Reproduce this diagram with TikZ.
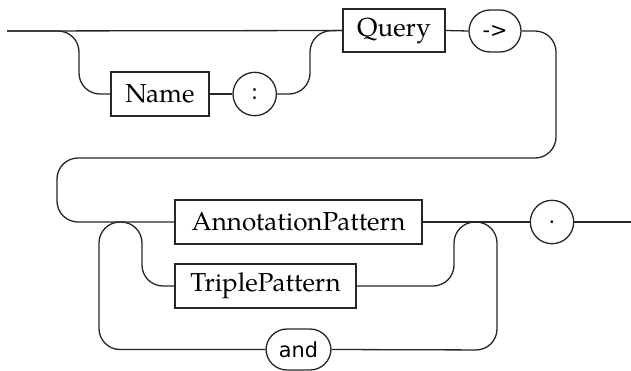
\documentclass[tikz,border=0pt]{standalone}
\usepackage{fontspec}
\newfontfamily\termfont{DejaVu Sans}
% Palatino-style serif for the nonterminal names
\newfontfamily\ntfont{TeX Gyre Pagella}
\tikzset{
  rail/.style={line width=0.65pt, draw=black!85},
  rc/.style={rail, rounded corners=10.5pt},
  nonterm/.style={draw=black!85, line width=0.65pt, rectangle, inner sep=0pt,
    font=\ntfont\fontsize{13}{15}\selectfont},
  term/.style={draw=black!85, line width=0.65pt, rectangle, rounded corners=10.5pt,
    inner sep=0pt, font=\termfont\fontsize{10.4}{12}\selectfont},
  termcirc/.style={draw=black!85, line width=0.65pt, circle, inner sep=0pt,
    minimum size=21.7pt, font=\termfont\fontsize{10.4}{12}\selectfont},
}
\begin{document}
\begin{tikzpicture}[x=0.5pt, y=-0.5pt]
\useasboundingbox (0,0) rectangle (631,370);

% first row: optional "Name :" prefix, then Query ->
\coordinate (in) at (7,31);
\node[nonterm, minimum width=49pt, minimum height=22pt] (name) at (160,94) {Name};
\node[termcirc] (colon) at (254.7,94) {:};
\node[nonterm, minimum width=51pt, minimum height=21.5pt] (query) at (394,30.5) {Query};
\node[term, minimum width=26pt, minimum height=21pt] (arrow) at (495,31) {->};

% second row: a list of patterns separated by "and", closed by "."
\node[nonterm, minimum width=123.5pt, minimum height=22pt] (ap) at (298.5,222) {AnnotationPattern};
\node[nonterm, minimum width=90.5pt, minimum height=22pt] (tp) at (265.5,286) {TriplePattern};
\node[term, minimum width=32.5pt, minimum height=20.5pt] (and) at (298.5,349.5) {and};
\node[termcirc] (dot) at (552,222) {.};
\coordinate (out) at (631,222);

% first row connectors
\draw[rail] (in) -- (query.west);
\draw[rc] (in) -| (79,94) -- (name.west);
\draw[rail] (name.east) -- (colon.west);
\draw[rc] (colon.east) -| (310,31) -- (query.west);
\draw[rail] (query.east) -- (arrow.west);

% wrap-around to the second row
\draw[rc] (arrow.east) -| (556,158) -| (57,222) -- (ap.west);

% pattern choice and the "and" loop
\draw[rc] (and.west) -| (99,222) -| (142,286) -- (tp.west);
\draw[rc] (tp.east) -| (454,222) -| (497,350) -- (and.east);
\draw[rail] (ap.east) -- (dot.west);
\draw[rail] (dot.east) -- (out);
\end{tikzpicture}
\end{document}
